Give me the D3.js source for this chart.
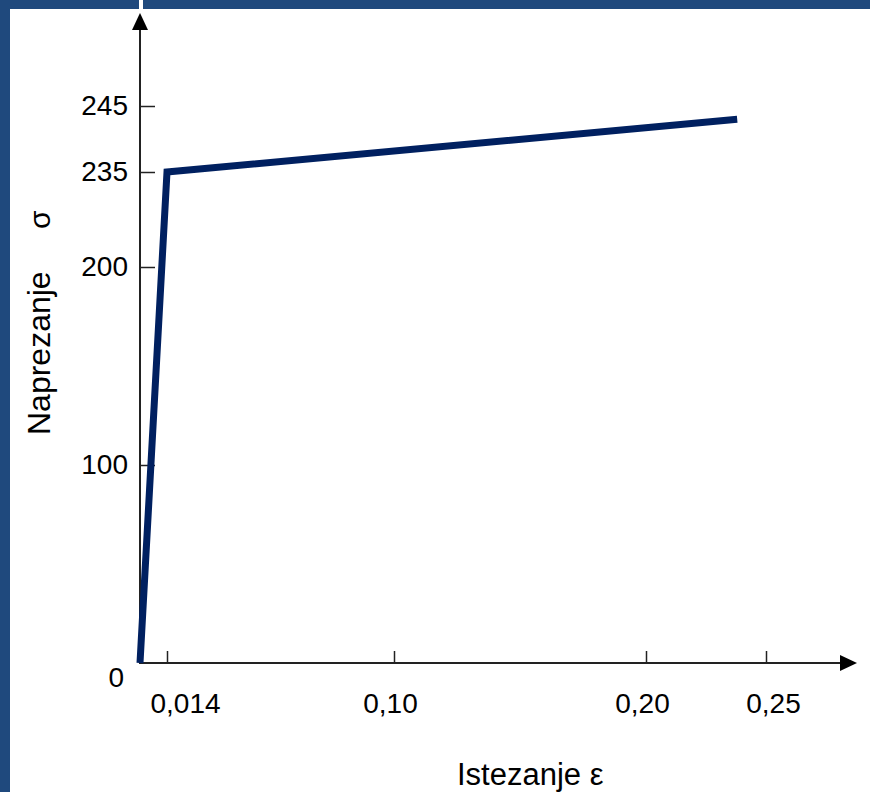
<!DOCTYPE html>
<html>
<head>
<meta charset="utf-8">
<script src="https://cdn.jsdelivr.net/npm/d3@7"></script>
<style>
  body { margin: 0; background: #ffffff; }
  text { font-family: "Liberation Sans", Arial, sans-serif; fill: #000; }
</style>
</head>
<body>
<script>
// stress-strain curve values
var strain = [0, 0.014, 0.238];
var stress = [0, 235, 243];

// axis ticks
var xTicks = [0.014, 0.10, 0.20, 0.25];
var xTickLabels = ["0,014", "0,10", "0,20", "0,25"];
var yTicks = [100, 200, 235, 245];
var yTickLabels = ["100", "200", "235", "245"];

var w = 870, h = 792;

var svg = d3.select("body").append("svg")
  .attr("width", w)
  .attr("height", h);

// slide frame: blue band on top and left
svg.append("rect").attr("x", 0).attr("y", 0).attr("width", w).attr("height", 9).attr("fill", "#1f497d");
svg.append("rect").attr("x", 0).attr("y", 0).attr("width", 10).attr("height", h).attr("fill", "#1f497d");
svg.append("rect").attr("x", 139).attr("y", 0).attr("width", 4).attr("height", 9).attr("fill", "#ffffff");

// the axes are not linear in the drawing, so piecewise scales
var x = d3.scaleLinear()
  .domain([0, 0.014, 0.10, 0.20, 0.25, 0.28])
  .range([140, 167, 394, 646, 766, 838]);

var y = d3.scaleLinear()
  .domain([0, 100, 200, 235, 245])
  .range([663, 465, 267, 172, 106]);

var axisColor = "#222";

// axis lines with arrows
svg.append("line")
  .attr("x1", 140).attr("y1", 663).attr("x2", 140).attr("y2", 28)
  .attr("stroke", axisColor).attr("stroke-width", 2);
svg.append("path")
  .attr("d", "M140,13 L132,30 L148,30 Z")
  .attr("fill", "#000");

svg.append("line")
  .attr("x1", 139).attr("y1", 663).attr("x2", 842).attr("y2", 663)
  .attr("stroke", axisColor).attr("stroke-width", 2);
svg.append("path")
  .attr("d", "M857,663 L840,655 L840,671 Z")
  .attr("fill", "#000");

// x axis ticks
var xAxis = d3.axisBottom(x)
  .tickValues(xTicks)
  .tickFormat(function(d, i){ return xTickLabels[i]; })
  .tickSizeInner(-12)
  .tickSizeOuter(0)
  .tickPadding(30);

var gx = svg.append("g")
  .attr("transform", "translate(0,663)")
  .call(xAxis);
gx.select(".domain").remove();
gx.selectAll(".tick line").attr("stroke", axisColor).attr("stroke-width", 1.5);
gx.selectAll(".tick text")
  .attr("font-size", 28)
  .attr("font-family", "Liberation Sans, Arial, sans-serif")
  .attr("fill", "#000")
  .attr("dx", function(d, i){ return i === 0 ? 18 : (i === 3 ? 7 : -4); });

// y axis ticks
var yAxis = d3.axisLeft(y)
  .tickValues(yTicks)
  .tickFormat(function(d, i){ return yTickLabels[i]; })
  .tickSizeInner(-15)
  .tickSizeOuter(0)
  .tickPadding(12);

var gy = svg.append("g")
  .attr("transform", "translate(140,0)")
  .call(yAxis);
gy.select(".domain").remove();
gy.selectAll(".tick line").attr("stroke", axisColor).attr("stroke-width", 1.5);
gy.selectAll(".tick text")
  .attr("font-size", 28)
  .attr("font-family", "Liberation Sans, Arial, sans-serif")
  .attr("fill", "#000");

// origin label
svg.append("text")
  .attr("x", 124).attr("y", 687)
  .attr("text-anchor", "end")
  .attr("font-size", 28)
  .text("0");

// the curve
var line = d3.line()
  .x(function(d){ return x(d[0]); })
  .y(function(d){ return y(d[1]); });

svg.append("path")
  .datum(d3.zip(strain, stress))
  .attr("d", line)
  .attr("fill", "none")
  .attr("stroke", "#002060")
  .attr("stroke-width", 7)
  .attr("stroke-linejoin", "miter");

// axis titles
svg.append("text")
  .attr("transform", "translate(50,435) rotate(-90)")
  .attr("font-size", 32)
  .text("Naprezanje");
svg.append("text")
  .attr("transform", "translate(50,229) rotate(-90)")
  .attr("font-size", 30)
  .text("σ");

svg.append("text")
  .attr("x", 457).attr("y", 785)
  .attr("font-size", 31)
  .text("Istezanje ε");
</script>
</body>
</html>
